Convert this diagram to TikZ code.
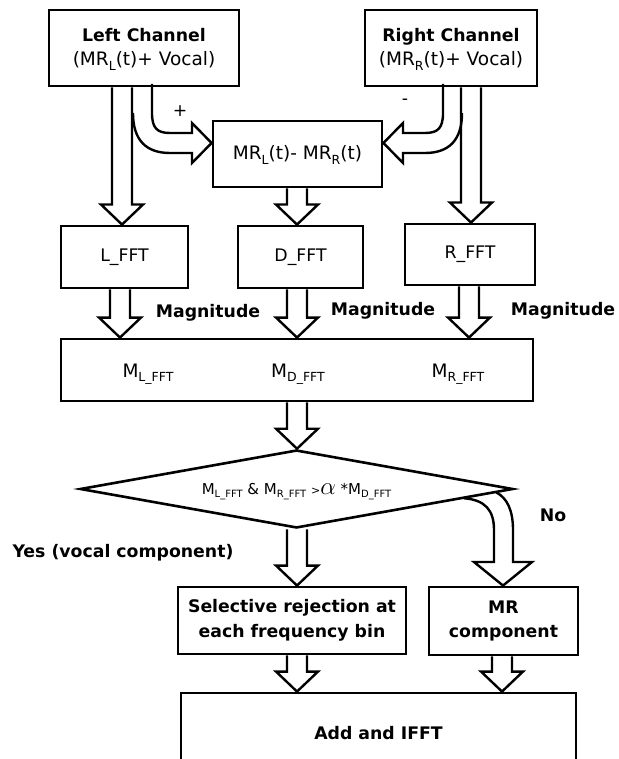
\documentclass[tikz,border=0pt]{standalone}
\usepackage{fontspec}
\setmainfont{DejaVu Sans}
\usepackage{tikz}
\usetikzlibrary{shapes.geometric,calc}

\newcommand{\lowsub}[1]{\raisebox{-4.5pt}[0pt][0pt]{\fontsize{12.5}{12.5}\selectfont #1}}
\newcommand{\tinysub}[1]{\raisebox{-3.5pt}[0pt][0pt]{\fontsize{10}{10}\selectfont #1}}
\newcommand{\mrfont}{\fontsize{18.5}{24.5}\selectfont}
% block arrow pointing down: from node anchor, to node anchor, at x
\newcommand{\blkdown}[3]{%
  \draw [blk] let \p1=(#1), \p2=(#2), \p3=(#3,0) in
    (\x3-10pt,\y1) -- (\x3-10pt,\y2+20pt) -- (\x3-21pt,\y2+20pt) -- (\x3,\y2)
    -- (\x3+21pt,\y2+20pt) -- (\x3+10pt,\y2+20pt) -- (\x3+10pt,\y1);}

\begin{document}
\begin{tikzpicture}[x=1pt,y=-1pt]
			\tikzstyle{every node}+=[inner sep=0pt, font=\fontsize{17.3}{24.5}\selectfont]
			\tikzstyle{box}=[draw=black, line width=2.9pt, rectangle, align=center]
			\tikzstyle{blk}=[draw=black, line width=2.4pt, line join=miter]
			\useasboundingbox (0,0) rectangle (618,759);
			\clip (0,0) rectangle (618,759);
			% input channels and difference
			\node [box, minimum width=190, minimum height=76] (lch) at (144,48) {\textbf{Left Channel}\\\mrfont(MR\lowsub{L}(t)+ Vocal)};
			\node [box, minimum width=172, minimum height=76] (rch) at (451,48) {\textbf{Right Channel}\\\mrfont(MR\lowsub{R}(t)+ Vocal)};
			\node [box, minimum width=169, minimum height=66] (mid) at (297.5,154) {\mrfont MR\lowsub{L}(t)- MR\lowsub{R}(t)};
			\node (plus) at (180,111) {+};
			\node (minus) at (405,102) {-};
			% FFT stage
			\node [box, minimum width=127, minimum height=62] (lfft) at (124.5,257) {L\_FFT};
			\node [box, minimum width=125, minimum height=62] (dfft) at (300.5,257) {D\_FFT};
			\node [box, minimum width=130, minimum height=61] (rfft) at (470,254.5) {R\_FFT};
			\node (mag1) at (208,313) {\textbf{Magnitude}};
			\node (mag2) at (383,311) {\textbf{Magnitude}};
			\node (mag3) at (563,311) {\textbf{Magnitude}};
			\node [box, minimum width=472, minimum height=62] (mbox) at (297,370) {};
			\node [anchor=base] (ml) at (148,377) {\mrfont M\lowsub{L\_FFT}};
			\node [anchor=base] (md) at (298,377) {\mrfont M\lowsub{D\_FFT}};
			\node [anchor=base] (mr) at (458,377) {\mrfont M\lowsub{R\_FFT}};
			% decision
			\node [draw=black, line width=2.6pt, diamond, aspect=5.5, minimum width=433, minimum height=78] (cond) at (296.5,489)
				{\fontsize{15}{15}\selectfont M\tinysub{L\_FFT} \& M\tinysub{R\_FFT} {\fontsize{11}{11}\selectfont >}{\fontsize{25}{25}\selectfont$\alpha$} *M\tinysub{D\_FFT}};
			\node (yes) at (123,553) {\textbf{Yes (vocal component)}};
			\node (no) at (553,515) {\textbf{No}};
			\node [box, minimum width=228, minimum height=67] (sel) at (292,620.5) {\textbf{Selective rejection at}\\\textbf{each frequency bin}};
			\node [box, minimum width=149, minimum height=68] (mrc) at (503.5,621) {\textbf{MR}\\\textbf{component}};
			\node [box, minimum width=395, minimum height=80] (add) at (378.5,733) {\textbf{Add and IFFT}};
			% straight block arrows
			\blkdown{lch.south}{lfft.north}{122}
			\blkdown{rch.south}{rfft.north}{471}
			\blkdown{mid.south}{dfft.north}{297}
			\blkdown{lfft.south}{mbox.north}{120}
			\blkdown{dfft.south}{mbox.north}{297}
			\blkdown{rfft.south}{mbox.north}{469}
			\blkdown{mbox.south}{cond.north}{297}
			\blkdown{cond.south}{sel.north}{297}
			\blkdown{sel.south}{add.north}{297}
			\blkdown{mrc.south}{add.north}{502}
			% bent block arrows
			\draw [blk] (152,84) -- (152,113) .. controls (152,128) and (157,133) .. (170,133) -- (192,133) -- (192,123)
				-- (mid.west |- 0,143) -- (192,163) -- (192,153) -- (170,153) .. controls (146,153) and (133,140) .. (133,113);
			\draw [blk] (443,84) -- (443,113) .. controls (443,128) and (438,133) .. (425,133) -- (403,133) -- (403,123)
				-- (mid.east |- 0,143) -- (403,163) -- (403,153) -- (425,153) .. controls (449,153) and (462,140) .. (462,113);
			\draw [blk] ($(cond.east)!0.23!(cond.south)$) .. controls (485,500) and (494,510) .. (494,530) -- (494,562) -- (474,562)
				-- (mrc.north -| 503,0) -- (532,562) -- (513,562) -- (513,530) .. controls (513,510) and (507,498) .. ($(cond.east)!0.083!(cond.south)$);
\end{tikzpicture}
\end{document}
